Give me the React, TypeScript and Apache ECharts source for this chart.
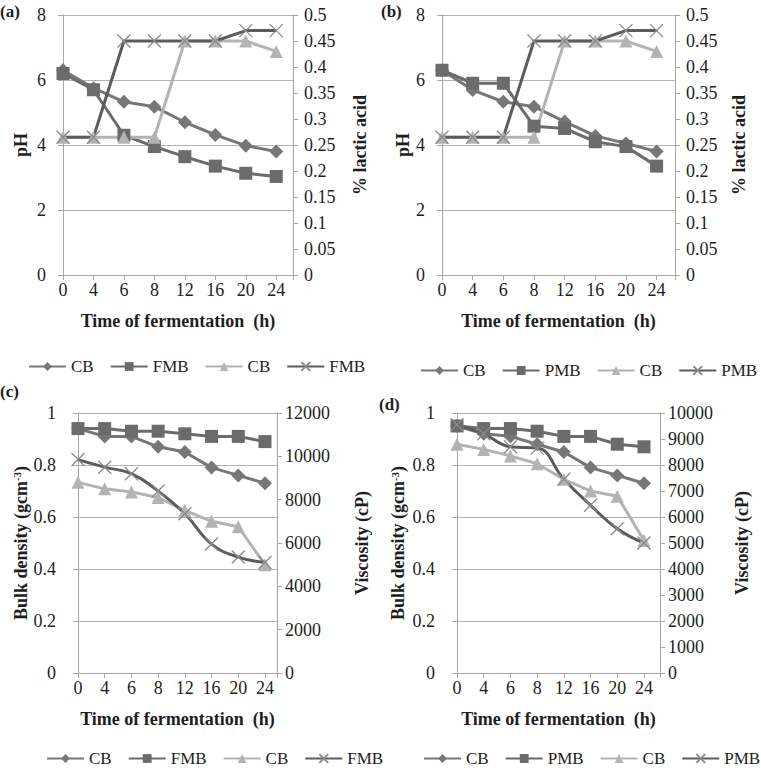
import React, { useEffect, useRef } from 'react';
import * as echarts from 'echarts';

// sampling times (h), shown as evenly spaced categories
const hours = ['0', '4', '6', '8', '12', '16', '20', '24'];

// (a) pH and % lactic acid, CB vs FMB
const phCbA = [6.3, 5.75, 5.33, 5.18, 4.7, 4.31, 3.98, 3.8];
const phFmbA = [6.2, 5.7, 4.3, 3.95, 3.64, 3.35, 3.13, 3.03];
const lacticCbA = [0.265, 0.265, 0.265, 0.265, 0.45, 0.45, 0.45, 0.43];
const lacticFmbA = [0.265, 0.265, 0.45, 0.45, 0.45, 0.45, 0.47, 0.47];

// (b) pH and % lactic acid, CB vs PMB
const phCbB = [6.3, 5.69, 5.33, 5.18, 4.72, 4.28, 4.05, 3.8];
const phPmbB = [6.3, 5.9, 5.9, 4.58, 4.51, 4.1, 3.95, 3.35];
const lacticCbB = [0.265, 0.265, 0.265, 0.265, 0.45, 0.45, 0.45, 0.43];
const lacticPmbB = [0.265, 0.265, 0.265, 0.45, 0.45, 0.45, 0.47, 0.47];

// (c) bulk density and viscosity, CB vs FMB
const densCbC = [0.94, 0.91, 0.91, 0.87, 0.85, 0.79, 0.76, 0.73];
const densFmbC = [0.94, 0.94, 0.93, 0.93, 0.92, 0.91, 0.91, 0.89];
const viscCbC = [8800, 8500, 8350, 8100, 7500, 7000, 6750, 5000];
const viscFmbC = [9850, 9500, 9200, 8400, 7350, 5950, 5350, 5100];

// (d) bulk density and viscosity, CB vs PMB
const densCbD = [0.95, 0.92, 0.91, 0.88, 0.85, 0.79, 0.76, 0.73];
const densPmbD = [0.95, 0.94, 0.94, 0.93, 0.91, 0.91, 0.88, 0.87];
const viscCbD = [8800, 8600, 8350, 8050, 7450, 7000, 6800, 5100];
const viscPmbD = [9550, 9200, 8700, 8650, 7450, 6450, 5550, 5000];

const font = "'Liberation Serif', 'Times New Roman', serif";
const ink = '#1e1e1e';
const axisGrey = '#a6a6a6';
const gridGrey = '#b3b3b3';
const cDiamond = '#777777';
const cSquare = '#6b6b6b';
const cTriangle = '#b3b3b3';
const cCross = '#5c5c5c';
const crossPath = 'path://M0,0L10,10M10,0L0,10';

const toPoints = (vals: number[]) => vals.map((v, i) => [i, v]);

type Panel = {
  key: string;
  tag: string;
  tagPos: [number, number];
  grid: { left: number; top: number; width: number; height: number };
  xMax: number;
  leftAxis: { name: string; max: number; interval: number; margin: number; gap: number };
  rightAxis: { name: string; max: number; interval: number; margin: number; gap: number };
  legendPos: [number, number];
  other: string;
  smoothCross: boolean;
  data: [number[], number[], number[], number[]];
};

const panels: Panel[] = [
  {
    key: 'a', tag: '(a)', tagPos: [0, 3],
    grid: { left: 63, top: 15, width: 230, height: 260 }, xMax: 7.55,
    leftAxis: { name: 'pH', max: 8, interval: 2, margin: 17, gap: 33 },
    rightAxis: { name: '% lactic acid', max: 0.5, interval: 0.05, margin: 11, gap: 58 },
    legendPos: [23, 353], other: 'FMB', smoothCross: false,
    data: [phCbA, phFmbA, lacticCbA, lacticFmbA],
  },
  {
    key: 'b', tag: '(b)', tagPos: [381, 3],
    grid: { left: 442, top: 15, width: 233, height: 260 }, xMax: 7.6,
    leftAxis: { name: 'pH', max: 8, interval: 2, margin: 17, gap: 30 },
    rightAxis: { name: '% lactic acid', max: 0.5, interval: 0.05, margin: 11, gap: 55 },
    legendPos: [415, 357], other: 'PMB', smoothCross: false,
    data: [phCbB, phPmbB, lacticCbB, lacticPmbB],
  },
  {
    key: 'c', tag: '(c)', tagPos: [0, 383],
    grid: { left: 78, top: 413, width: 199, height: 260 }, xMax: 7.45,
    leftAxis: { name: 'Bulk density (gcm{sup|-3})', max: 1, interval: 0.2, margin: 22, gap: 43 },
    rightAxis: { name: 'Viscosity (cP)', max: 12000, interval: 2000, margin: 8, gap: 76 },
    legendPos: [41, 745], other: 'FMB', smoothCross: true,
    data: [densCbC, densFmbC, viscCbC, viscFmbC],
  },
  {
    key: 'd', tag: '(d)', tagPos: [379, 396],
    grid: { left: 457, top: 413, width: 203, height: 260 }, xMax: 7.6,
    leftAxis: { name: 'Bulk density (gcm{sup|-3})', max: 1, interval: 0.2, margin: 22, gap: 50 },
    rightAxis: { name: 'Viscosity (cP)', max: 10000, interval: 1000, margin: 8, gap: 73 },
    legendPos: [418, 745], other: 'PMB', smoothCross: true,
    data: [densCbD, densPmbD, viscCbD, viscPmbD],
  },
];

const labelStyle = { color: ink, fontFamily: font, fontSize: 18 };
const nameStyle = {
  color: ink, fontFamily: font, fontSize: 18, fontWeight: 'bold' as const,
  rich: { sup: { color: ink, fontFamily: font, fontSize: 11, fontWeight: 'bold' as const, verticalAlign: 'top' as const } },
};

const buildOption = (): echarts.EChartsOption => {
  const grids: any[] = [];
  const xAxes: any[] = [];
  const yAxes: any[] = [];
  const series: any[] = [];
  const legends: any[] = [];
  const graphics: any[] = [];

  panels.forEach((p, i) => {
    grids.push({ ...p.grid });
    xAxes.push({
      type: 'value', gridIndex: i, min: 0, max: p.xMax, interval: 1,
      axisLine: { show: true, lineStyle: { color: axisGrey } },
      axisTick: { show: true, length: 5, lineStyle: { color: axisGrey } },
      splitLine: { show: false },
      axisLabel: {
        ...labelStyle, margin: 6,
        formatter: (v: number) => (Number.isInteger(v) && hours[v] !== undefined ? hours[v] : ''),
      },
      name: 'Time of fermentation  (h)', nameLocation: 'middle', nameGap: 37,
      nameTextStyle: nameStyle,
    });
    const yBase = {
      type: 'value', gridIndex: i, min: 0,
      axisLine: { show: true, lineStyle: { color: axisGrey } },
      axisTick: { show: true, length: 5, lineStyle: { color: axisGrey } },
      nameLocation: 'middle', nameRotate: 90, nameTextStyle: nameStyle,
    };
    yAxes.push({
      ...yBase, position: 'left', max: p.leftAxis.max, interval: p.leftAxis.interval,
      splitLine: { show: true, lineStyle: { color: gridGrey } },
      axisLabel: { ...labelStyle, margin: p.leftAxis.margin, formatter: (v: number) => String(v) },
      name: p.leftAxis.name, nameGap: p.leftAxis.gap,
    });
    yAxes.push({
      ...yBase, position: 'right', max: p.rightAxis.max, interval: p.rightAxis.interval,
      splitLine: { show: false },
      axisLabel: { ...labelStyle, margin: p.rightAxis.margin, formatter: (v: number) => String(v) },
      name: p.rightAxis.name, nameGap: p.rightAxis.gap,
    });

    const specs = [
      { label: 'CB', symbol: 'diamond', size: 14, color: cDiamond, axis: 0, smooth: false },
      { label: p.other, symbol: 'rect', size: 13, color: cSquare, axis: 0, smooth: false },
      { label: 'CB', symbol: 'triangle', size: 13, color: cTriangle, axis: 1, smooth: false },
      { label: p.other, symbol: crossPath, size: 13, color: cCross, axis: 1, smooth: p.smoothCross },
    ];
    const names: string[] = [];
    specs.forEach((s, k) => {
      const name = `${p.key}|${s.label}|${k}`;
      names.push(name);
      series.push({
        name, type: 'line', xAxisIndex: i, yAxisIndex: 2 * i + s.axis,
        data: toPoints(p.data[k]),
        symbol: s.symbol, symbolSize: s.size, showSymbol: true,
        smooth: s.smooth ? 0.45 : false,
        lineStyle: { color: s.color, width: 3 },
        itemStyle: s.symbol === crossPath
          ? { color: s.color, borderColor: '#8a8a8a', borderWidth: 1.3 }
          : { color: s.color },
        emphasis: { disabled: true },
      });
    });
    legends.push({
      left: p.legendPos[0], top: p.legendPos[1], orient: 'horizontal', width: 360,
      itemWidth: 37, itemHeight: 11, itemGap: 16,
      textStyle: { color: ink, fontFamily: font, fontSize: 17 },
      formatter: (n: string) => n.split('|')[1],
      data: names, selectedMode: false,
    });
    graphics.push({
      type: 'text', left: p.tagPos[0], top: p.tagPos[1],
      style: { text: p.tag, fill: ink, fontFamily: font, fontSize: 17, fontWeight: 'bold' },
    });
  });

  return {
    animation: false,
    backgroundColor: '#ffffff',
    grid: grids, xAxis: xAxes, yAxis: yAxes, series, legend: legends, graphic: graphics,
  };
};

const App: React.FC = () => {
  const chartRef = useRef<HTMLDivElement>(null);

  useEffect(() => {
    document.body.style.margin = '0';
    if (!chartRef.current) return;
    const chart = echarts.init(chartRef.current, undefined, { renderer: 'svg' });
    chart.setOption(buildOption());
    return () => {
      chart.dispose();
    };
  }, []);

  return <div ref={chartRef} style={{ width: 761, height: 771 }} />;
};

export default App;
